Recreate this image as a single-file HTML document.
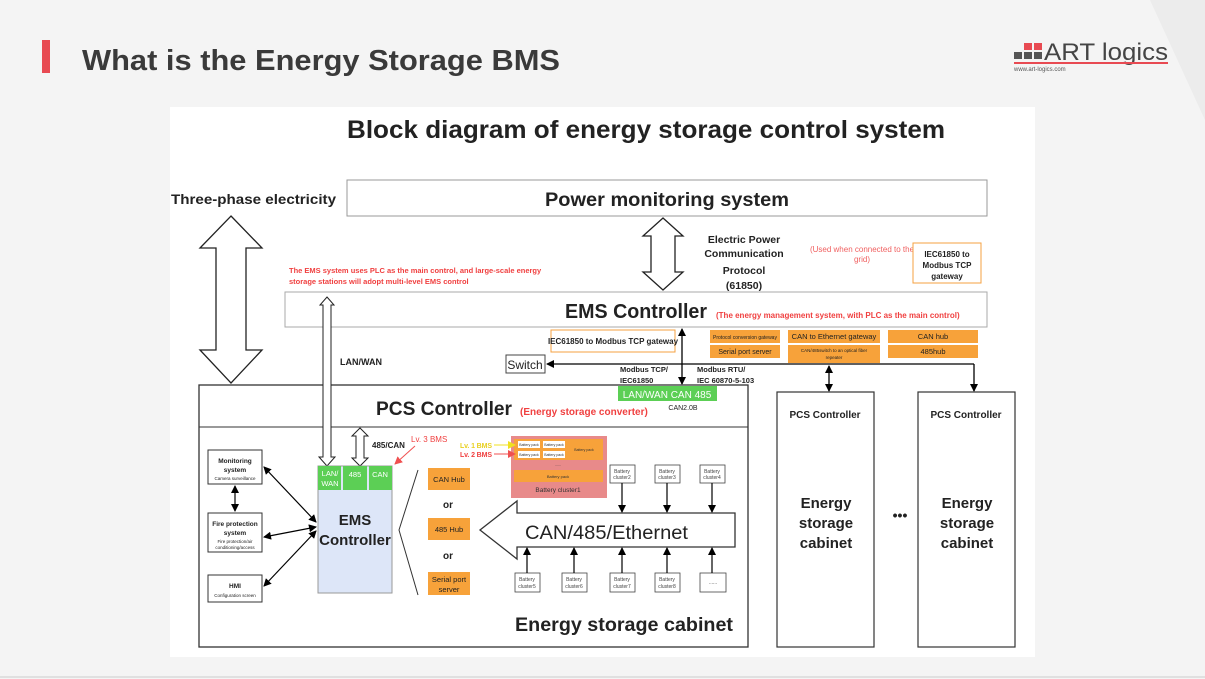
<!DOCTYPE html>
<html><head><meta charset="utf-8"><style>
body{margin:0;width:1205px;height:679px;overflow:hidden;background:#f3f3f3;font-family:"Liberation Sans",sans-serif}
svg{display:block}
text{font-family:"Liberation Sans",sans-serif}
</style></head><body>
<svg width="1205" height="679" viewBox="0 0 1205 679" xmlns="http://www.w3.org/2000/svg">
<defs>
<marker id="a" markerWidth="8" markerHeight="8" refX="7" refY="4" orient="auto-start-reverse" markerUnits="userSpaceOnUse"><path d="M0,0 L8,4 L0,8 z" fill="#000"/></marker>
<marker id="r" markerWidth="8" markerHeight="8" refX="7" refY="4" orient="auto" markerUnits="userSpaceOnUse"><path d="M0,0 L8,4 L0,8 z" fill="#f05050"/></marker>
<marker id="y" markerWidth="8" markerHeight="8" refX="7" refY="4" orient="auto" markerUnits="userSpaceOnUse"><path d="M0,0 L8,4 L0,8 z" fill="#f0e020"/></marker>
</defs>
<rect width="1205" height="679" fill="#f4f4f4"/>
<polygon points="1150,0 1205,0 1205,120" fill="#ececec"/>
<line x1="0" y1="677" x2="1205" y2="677" stroke="#ccc"/>
<!-- header -->
<rect x="42" y="40" width="8" height="33" fill="#e84a52"/>
<text x="82" y="70" font-size="29" font-weight="bold" fill="#3a3a3a" textLength="478" lengthAdjust="spacingAndGlyphs">What is the Energy Storage BMS</text>
<g fill="#555"><rect x="1014" y="52" width="8" height="7"/><rect x="1024" y="52" width="8" height="7"/><rect x="1034" y="52" width="8" height="7"/><rect x="1024" y="43" width="8" height="7" fill="#e84a52"/><rect x="1034" y="43" width="8" height="7" fill="#e84a52"/></g>
<text x="1044" y="60" font-size="24" fill="#444" textLength="124" lengthAdjust="spacingAndGlyphs">ART logics</text>
<rect x="1014" y="62" width="154" height="2" fill="#e84a52"/>
<text x="1014" y="71" font-size="6" fill="#555">www.art-logics.com</text>
<!-- diagram area -->
<rect x="170" y="107" width="865" height="550" fill="#fff"/>
<text x="347" y="138" font-size="25" font-weight="bold" fill="#222" textLength="598" lengthAdjust="spacingAndGlyphs">Block diagram of energy storage control system</text>
<rect x="347" y="180" width="640" height="36" fill="#fff" stroke="#999"/>
<text x="545" y="206" font-size="19" font-weight="bold" fill="#222" textLength="244" lengthAdjust="spacingAndGlyphs">Power monitoring system</text>
<text x="171" y="204" font-size="14" font-weight="bold" fill="#222" textLength="165" lengthAdjust="spacingAndGlyphs">Three-phase electricity</text>
<!-- big left double arrow -->
<polygon points="231,216 262,248 246,248 246,350 262,350 231,383 200,350 216,350 216,248 200,248" fill="#fff" stroke="#222" stroke-width="1.3"/>
<!-- middle double arrow -->
<polygon points="663,218 683,236 675,236 675,272 683,272 663,290 643,272 651,272 651,236 643,236" fill="#fff" stroke="#222" stroke-width="1.3"/>
<g font-size="10.5" font-weight="bold" text-anchor="middle" fill="#222">
<text x="744" y="243">Electric Power</text><text x="744" y="257">Communication</text><text x="744" y="274">Protocol</text><text x="744" y="289">(61850)</text></g>
<text x="862" y="252" font-size="8" text-anchor="middle" fill="#f06060">(Used when connected to the</text>
<text x="862" y="262" font-size="8" text-anchor="middle" fill="#f06060">grid)</text>
<rect x="913" y="243" width="68" height="40" fill="#fff" stroke="#f5a040"/>
<g font-size="8" font-weight="bold" text-anchor="middle" fill="#222"><text x="947" y="257">IEC61850 to</text><text x="947" y="268">Modbus TCP</text><text x="947" y="279">gateway</text></g>
<text x="289" y="273" font-size="7.5" font-weight="bold" fill="#f04040">The EMS system uses PLC as the main control, and large-scale energy</text>
<text x="289" y="284" font-size="7.5" font-weight="bold" fill="#f04040">storage stations will adopt multi-level EMS control</text>
<!-- EMS controller -->
<rect x="285" y="292" width="702" height="35" fill="#fff" stroke="#aaa"/>
<text x="565" y="318" font-size="20" font-weight="bold" fill="#222" textLength="142" lengthAdjust="spacingAndGlyphs">EMS Controller</text>
<text x="716" y="318" font-size="8" font-weight="bold" fill="#f04040">(The energy management system, with PLC as the main control)</text>
<rect x="551" y="330" width="124" height="22" fill="#fff" stroke="#f5a040"/>
<text x="613" y="344" font-size="8" font-weight="bold" text-anchor="middle" fill="#222">IEC61850 to Modbus TCP gateway</text>
<g fill="#f7a23a"><rect x="710" y="330" width="70" height="13"/><rect x="710" y="345" width="70" height="13"/><rect x="788" y="330" width="92" height="13"/><rect x="788" y="345" width="92" height="18"/><rect x="888" y="330" width="90" height="13"/><rect x="888" y="345" width="90" height="13"/></g>
<g text-anchor="middle" fill="#222">
<text x="745" y="339" font-size="5">Protocol conversion gateway</text>
<text x="745" y="354" font-size="7">Serial port server</text>
<text x="834" y="339" font-size="7.5">CAN to Ethernet gateway</text>
<text x="834" y="352" font-size="4.5">CAN/485switch to an optical fiber</text>
<text x="834" y="359" font-size="4.5">repeater</text>
<text x="933" y="339" font-size="7.5">CAN hub</text>
<text x="933" y="354" font-size="7.5">485hub</text></g>
<rect x="506" y="355" width="39" height="18" fill="#fff" stroke="#444"/>
<text x="525" y="369" font-size="12" text-anchor="middle" fill="#222">Switch</text>
<line x1="974" y1="364" x2="547" y2="364" stroke="#000" stroke-width="1.3" marker-end="url(#a)"/>
<line x1="974" y1="364" x2="974" y2="391" stroke="#000" stroke-width="1.3" marker-end="url(#a)"/>
<line x1="829" y1="366" x2="829" y2="391" stroke="#000" stroke-width="1.3" marker-start="url(#a)" marker-end="url(#a)"/>
<line x1="682" y1="329" x2="682" y2="384" stroke="#000" stroke-width="1.3" marker-start="url(#a)" marker-end="url(#a)"/>
<g font-size="7.5" font-weight="bold" fill="#222"><text x="620" y="372">Modbus TCP/</text><text x="620" y="383">IEC61850</text><text x="697" y="372">Modbus RTU/</text><text x="697" y="383">IEC 60870-5-103</text></g>
<!-- PCS box -->
<rect x="199" y="385" width="549" height="262" fill="none" stroke="#333" stroke-width="1.3"/>
<line x1="199" y1="427" x2="748" y2="427" stroke="#333"/>
<rect x="618" y="386" width="99" height="15" fill="#5ccf55"/>
<text x="667" y="398" font-size="10" text-anchor="middle" fill="#fff">LAN/WAN  CAN  485</text>
<text x="683" y="410" font-size="7" text-anchor="middle" fill="#222">CAN2.0B</text>
<text x="376" y="415" font-size="19" font-weight="bold" fill="#222" textLength="136" lengthAdjust="spacingAndGlyphs">PCS Controller</text>
<text x="520" y="415" font-size="10" font-weight="bold" fill="#f04040">(Energy storage converter)</text>
<!-- LAN/WAN arrow -->
<polygon points="327,297 334,305 331,305 331,457 335,457 327,466 319,457 323,457 323,305 320,305" fill="#fff" stroke="#222"/>
<text x="340" y="365" font-size="9" font-weight="bold" fill="#222">LAN/WAN</text>
<!-- 485/CAN arrow -->
<polygon points="360,428 368,436 364,436 364,458 368,458 360,466 352,458 356,458 356,436 352,436" fill="#fff" stroke="#222"/>
<text x="372" y="448" font-size="8" font-weight="bold" fill="#222">485/CAN</text>
<text x="411" y="442" font-size="8" fill="#f04040">Lv. 3 BMS</text>
<line x1="415" y1="446" x2="395" y2="464" stroke="#f05050" marker-end="url(#r)"/>
<!-- side boxes -->
<g fill="#fff" stroke="#333"><rect x="208" y="450" width="54" height="34"/><rect x="208" y="513" width="54" height="39"/><rect x="208" y="575" width="54" height="27"/></g>
<g text-anchor="middle" fill="#222">
<text x="235" y="463" font-size="6.5" font-weight="bold">Monitoring</text><text x="235" y="472" font-size="6.5" font-weight="bold">system</text><text x="235" y="480" font-size="4.5">Camera surveillance</text>
<text x="235" y="526" font-size="6.5" font-weight="bold">Fire protection</text><text x="235" y="535" font-size="6.5" font-weight="bold">system</text><text x="235" y="543" font-size="4.5">Fire protection/air</text><text x="235" y="549" font-size="4.5">conditioning/access</text>
<text x="235" y="588" font-size="6.5" font-weight="bold">HMI</text><text x="235" y="597" font-size="4.5">Configuration screen</text></g>
<g stroke="#000" stroke-width="1.2" marker-start="url(#a)" marker-end="url(#a)">
<line x1="235" y1="486" x2="235" y2="511"/>
<line x1="264" y1="467" x2="316" y2="522"/>
<line x1="264" y1="537" x2="316" y2="527"/>
<line x1="264" y1="586" x2="316" y2="531"/>
</g>
<!-- EMS inner -->
<rect x="318" y="466" width="74" height="127" fill="#dde6f8" stroke="#999"/>
<g fill="#5ccf55"><rect x="318" y="466" width="23" height="24"/><rect x="343" y="466" width="24" height="24"/><rect x="369" y="466" width="23" height="24"/></g>
<g font-size="7.5" fill="#fff" text-anchor="middle"><text x="330" y="476">LAN/</text><text x="330" y="486">WAN</text><text x="355" y="477">485</text><text x="380" y="477">CAN</text></g>
<text x="355" y="525" font-size="15" font-weight="bold" text-anchor="middle" fill="#222">EMS</text>
<text x="355" y="545" font-size="15" font-weight="bold" text-anchor="middle" fill="#222">Controller</text>
<polyline points="418,470 399,530 418,595" fill="none" stroke="#333"/>
<g fill="#f7a23a"><rect x="428" y="468" width="42" height="22"/><rect x="428" y="518" width="42" height="22"/><rect x="428" y="572" width="42" height="23"/></g>
<g font-size="7.5" text-anchor="middle" fill="#222"><text x="449" y="482">CAN Hub</text><text x="449" y="532">485 Hub</text><text x="449" y="582">Serial port</text><text x="449" y="592">server</text></g>
<text x="448" y="508" font-size="10" font-weight="bold" text-anchor="middle" fill="#222">or</text>
<text x="448" y="559" font-size="10" font-weight="bold" text-anchor="middle" fill="#222">or</text>
<!-- battery cluster1 -->
<rect x="511" y="436" width="96" height="62" fill="#e88a8a"/>
<rect x="514" y="439" width="89" height="21" fill="#f7a23a"/>
<g fill="#fff"><rect x="518" y="441" width="22" height="7"/><rect x="543" y="441" width="22" height="7"/><rect x="518" y="451" width="22" height="7"/><rect x="543" y="451" width="22" height="7"/></g>
<g font-size="3.5" fill="#333" text-anchor="middle"><text x="529" y="446">Battery pack</text><text x="554" y="446">Battery pack</text><text x="529" y="456">Battery pack</text><text x="554" y="456">Battery pack</text><text x="584" y="451">Battery pack</text></g>
<rect x="514" y="470" width="89" height="12" fill="#f7a23a"/>
<text x="558" y="478" font-size="4" text-anchor="middle" fill="#333">Battery pack</text>
<text x="558" y="466" font-size="4" text-anchor="middle" fill="#333">......</text>
<text x="558" y="492" font-size="6.5" text-anchor="middle" fill="#333">Battery cluster1</text>
<text x="460" y="448" font-size="7" font-weight="bold" fill="#e8d020" textLength="32">Lv. 1 BMS</text>
<text x="460" y="457" font-size="7" font-weight="bold" fill="#f04040" textLength="32">Lv. 2 BMS</text>
<line x1="494" y1="445" x2="515" y2="445" stroke="#f0e020" marker-end="url(#y)"/>
<line x1="494" y1="454" x2="515" y2="454" stroke="#f05050" marker-end="url(#r)"/>
<!-- big hollow arrow -->
<polygon points="480,530 517,501 517,513 735,513 735,547 517,547 517,559" fill="#fff" stroke="#333" stroke-width="1.3"/>
<text x="525" y="539" font-size="19" fill="#222" textLength="163" lengthAdjust="spacingAndGlyphs">CAN/485/Ethernet</text>
<g fill="#fff" stroke="#444" stroke-width="0.8">
<rect x="610" y="465" width="25" height="18"/><rect x="655" y="465" width="25" height="18"/><rect x="700" y="465" width="25" height="18"/>
<rect x="515" y="573" width="25" height="19"/><rect x="562" y="573" width="25" height="19"/><rect x="610" y="573" width="25" height="19"/><rect x="655" y="573" width="25" height="19"/><rect x="700" y="573" width="26" height="19"/></g>
<g font-size="5" fill="#444" text-anchor="middle">
<text x="622" y="473">Battery</text><text x="622" y="479">cluster2</text>
<text x="667" y="473">Battery</text><text x="667" y="479">cluster3</text>
<text x="712" y="473">Battery</text><text x="712" y="479">cluster4</text>
<text x="527" y="581">Battery</text><text x="527" y="588">cluster5</text>
<text x="574" y="581">Battery</text><text x="574" y="588">cluster6</text>
<text x="622" y="581">Battery</text><text x="622" y="588">cluster7</text>
<text x="667" y="581">Battery</text><text x="667" y="588">cluster8</text>
<text x="713" y="584">......</text></g>
<g stroke="#000" stroke-width="1.2" marker-end="url(#a)">
<line x1="622" y1="483" x2="622" y2="512"/><line x1="667" y1="483" x2="667" y2="512"/><line x1="712" y1="483" x2="712" y2="512"/>
<line x1="527" y1="573" x2="527" y2="548"/><line x1="574" y1="573" x2="574" y2="548"/><line x1="622" y1="573" x2="622" y2="548"/><line x1="667" y1="573" x2="667" y2="548"/><line x1="712" y1="573" x2="712" y2="548"/></g>
<text x="515" y="631" font-size="19" font-weight="bold" fill="#222" textLength="218" lengthAdjust="spacingAndGlyphs">Energy storage cabinet</text>
<!-- right PCS -->
<g fill="none" stroke="#333" stroke-width="1.2"><rect x="777" y="392" width="97" height="255"/><rect x="918" y="392" width="97" height="255"/></g>
<g font-size="10" font-weight="bold" text-anchor="middle" fill="#222"><text x="825" y="418">PCS Controller</text><text x="966" y="418">PCS Controller</text></g>
<g font-size="15" font-weight="bold" text-anchor="middle" fill="#222">
<text x="826" y="508">Energy</text><text x="826" y="528">storage</text><text x="826" y="548">cabinet</text>
<text x="967" y="508">Energy</text><text x="967" y="528">storage</text><text x="967" y="548">cabinet</text></g>
<text x="900" y="520" font-size="14" font-weight="bold" text-anchor="middle" fill="#222">•••</text>
</svg>
</body></html>
